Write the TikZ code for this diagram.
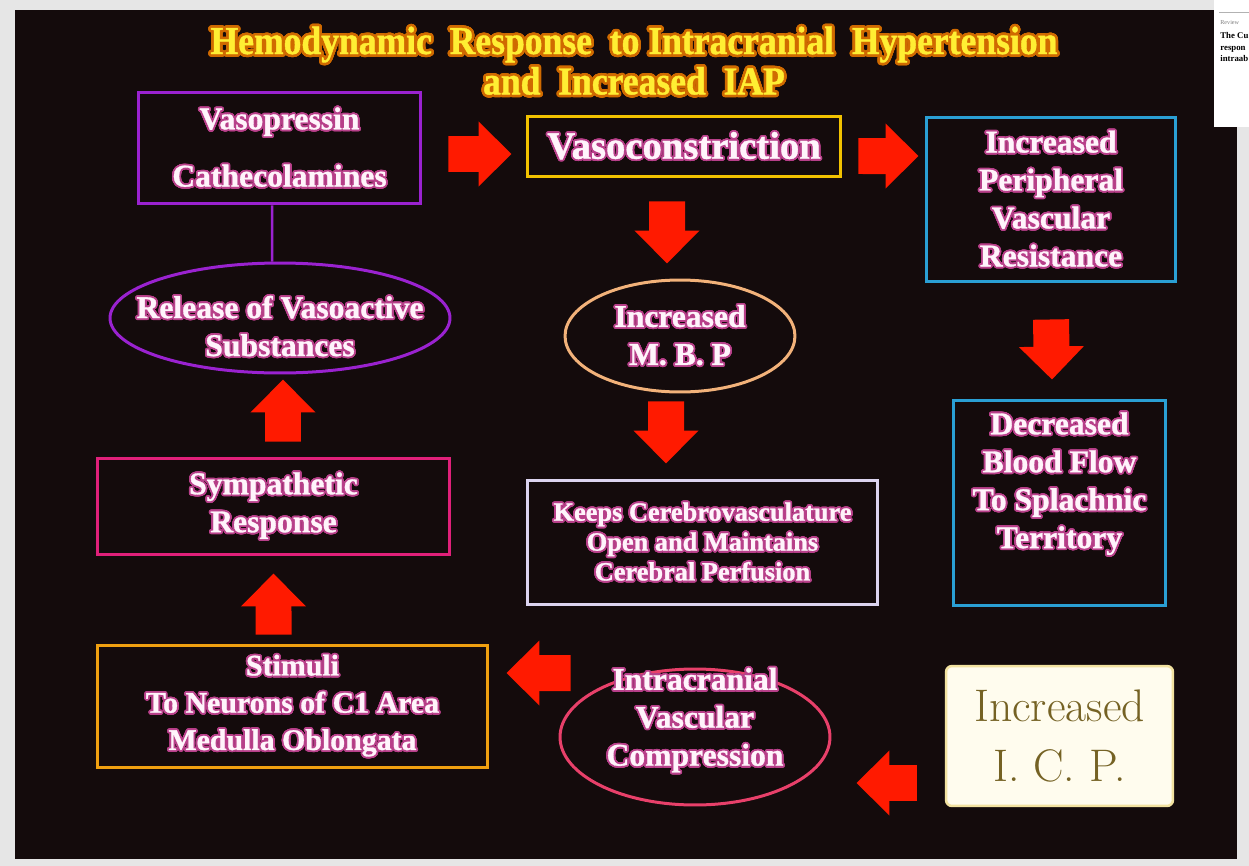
\documentclass[tikz,border=0pt]{standalone}
\usepackage{fontspec}
\usepackage{contour}
\usetikzlibrary{shapes.geometric,arrows.meta}

\newfontfamily\slidefont{Liberation Serif}[BoldFeatures={FakeBold=1}]
\newfontfamily\titlefont{Liberation Serif}[FakeStretch=0.9,BoldFeatures={FakeBold=1}]
\newfontfamily\thumbfont{Liberation Serif}

\definecolor{pagegray}{HTML}{E6E6E6}
\definecolor{slidebg}{HTML}{140B0C}
\definecolor{titleyel}{HTML}{FFEE33}
\definecolor{titleglow}{HTML}{D06A00}
\definecolor{txtwhite}{HTML}{FFF4FB}
\definecolor{txtglow}{HTML}{B8408A}
\definecolor{vpurple}{HTML}{9A22D0}
\definecolor{vgold}{HTML}{F2C200}
\definecolor{vcyan}{HTML}{2A9FD4}
\definecolor{vpeach}{HTML}{F2B27A}
\definecolor{vlilac}{HTML}{DCD4F0}
\definecolor{vmagenta}{HTML}{E0207A}
\definecolor{vorange}{HTML}{F0A010}
\definecolor{vrose}{HTML}{E8406A}
\definecolor{arrowred}{HTML}{FF1A00}
\definecolor{icpfill}{HTML}{FFFCEE}
\definecolor{icpedge}{HTML}{F2E2A0}
\definecolor{icptext}{HTML}{756224}

\contournumber{24}
\newcommand\gl[1]{{\contourlength{1pt}\contour{txtglow}{#1}}}
\newcommand\tgl[1]{{\contourlength{1.5pt}\contour{titleglow}{#1}}}

\tikzset{
  slidetext/.style={text=txtwhite, align=center,
    font=\slidefont\bfseries\fontsize{18}{21.6}\selectfont},
  framebox/.style={draw=#1, line width=0.06cm, rectangle, inner sep=0pt},
  ovalbox/.style={draw=#1, line width=0.06cm, ellipse, inner sep=0pt},
  bigarrow/.style={draw=arrowred, line width=0.72cm,
    -{Triangle[length=0.66cm,width=1.26cm]}},
}

\begin{document}
\begin{tikzpicture}[x=0.02cm, y=-0.02cm]
\useasboundingbox (0,0) rectangle (1249,866);
\fill[pagegray] (0,0) rectangle (1249,866);
\fill[slidebg] (15,10) rectangle (1237,859);

% paper thumbnail, top right
\fill[white] (1214,0) rectangle (1249,127);
\begin{scope}
\clip (1214,0) rectangle (1249,127);
\draw[gray!60, line width=0.02cm] (1219,12) -- (1249,12);
\node[anchor=west, inner sep=0pt, text=gray, font=\thumbfont\fontsize{3.5}{4}\selectfont] (thumbrev) at (1220,22) {Review};
\node[anchor=west, inner sep=0pt, align=left, font=\thumbfont\bfseries\fontsize{5}{6.5}\selectfont] (thumbtitle) at (1220,47) {The Cu\\respon\\intraab};
\end{scope}

% title
\node[text=titleyel, align=center, font=\titlefont\bfseries\fontsize{22.5}{23}\selectfont] (title) at (634,62)
  {\tgl{Hemodynamic\ \ Response\ \ to Intracranial\ \ Hypertension}\\ \tgl{and\ \ Increased\ \ IAP}};

% boxes
\node[framebox=vpurple, minimum width=5.66cm, minimum height=2.24cm, slidetext] (vaso) at (279.5,148)
  {\gl{Vasopressin}\\[11pt] \gl{Cathecolamines}};
\node[framebox=vgold, minimum width=6.28cm, minimum height=1.22cm, slidetext,
  font=\slidefont\bfseries\fontsize{22}{26}\selectfont] (vconstr) at (684,146.5) {\gl{Vasoconstriction}};
\node[framebox=vcyan, minimum width=5cm, minimum height=3.3cm, slidetext] (ipvr) at (1051,199.5)
  {\gl{Increased}\\ \gl{Peripheral}\\ \gl{Vascular}\\ \gl{Resistance}};

\node[ovalbox=vpurple, minimum width=6.8cm, minimum height=2.2cm] (release) at (280,318) {};
\node[slidetext] (releasetxt) at ([yshift=-0.18cm]release.center) {\gl{Release of Vasoactive}\\ \gl{Substances}};

\node[ovalbox=vpeach, minimum width=4.6cm, minimum height=2.24cm] (mbp) at (680,336) {};
\node[slidetext] (mbptxt) at (mbp.center) {\gl{Increased}\\ \gl{M. B. P}};

\node[framebox=vlilac, minimum width=7.02cm, minimum height=2.5cm, slidetext,
  font=\slidefont\bfseries\fontsize{15}{17}\selectfont] (keeps) at (702.5,542.5)
  {\gl{Keeps Cerebrovasculature}\\ \gl{Open and Maintains}\\ \gl{Cerebral Perfusion}};

\node[framebox=vcyan, minimum width=4.26cm, minimum height=4.12cm] (dbf) at (1059.5,503) {};
\node[slidetext] (dbftxt) at ([yshift=0.37cm]dbf.center)
  {\gl{Decreased}\\ \gl{Blood Flow}\\ \gl{To Splachnic}\\ \gl{Territory}};

\node[framebox=vmagenta, minimum width=7.06cm, minimum height=1.94cm, slidetext] (symp) at (273.5,506.5)
  {\gl{Sympathetic}\\ \gl{Response}};

\node[framebox=vorange, minimum width=7.82cm, minimum height=2.46cm, slidetext,
  font=\slidefont\bfseries\fontsize{17}{21.2}\selectfont] (stim) at (292.5,706.5)
  {\gl{Stimuli}\\ \gl{To Neurons of C1 Area}\\ \gl{Medulla Oblongata}};

\node[ovalbox=vrose, minimum width=5.4cm, minimum height=2.72cm] (icomp) at (695,737) {};
\node[slidetext] (icomptxt) at ([yshift=0.32cm]icomp.center)
  {\gl{Intracranial}\\ \gl{Vascular}\\ \gl{Compression}};

\node[draw=icpedge, fill=icpfill, line width=0.05cm, rounded corners=0.12cm,
  minimum width=4.54cm, minimum height=2.8cm, text=icptext, align=center,
  font=\fontsize{26}{34.7}\selectfont] (icp) at (1059.5,736) {Increased\\ I. C. P.};

% connector and red arrows
\draw[vpurple, line width=0.05cm] ([xshift=-0.15cm]vaso.south) -- ([xshift=-0.16cm]release.north);

\draw[bigarrow] ([xshift=0.52cm,yshift=-0.12cm]vaso.east) -- ([xshift=-0.28cm,yshift=-0.15cm]vconstr.west);
\draw[bigarrow] ([xshift=0.32cm,yshift=-0.19cm]vconstr.east) -- ([xshift=-0.12cm,yshift=0.87cm]ipvr.west);
\draw[bigarrow] ([xshift=-0.34cm,yshift=-0.46cm]vconstr.south) -- ([xshift=-0.26cm,yshift=0.3cm]mbp.north);
\draw[bigarrow] ([xshift=-0.28cm,yshift=-0.16cm]mbp.south) -- ([xshift=-0.73cm,yshift=0.3cm]keeps.north);
\draw[bigarrow] ([yshift=-0.72cm]ipvr.south) -- ([xshift=-0.15cm,yshift=0.38cm]dbf.north);
\draw[bigarrow] ([xshift=0.19cm,yshift=0.3cm]symp.north) -- ([xshift=0.06cm,yshift=-0.1cm]release.south);
\draw[bigarrow] ([xshift=-0.38cm,yshift=0.18cm]stim.north) -- ([yshift=-0.34cm]symp.south);
\draw[bigarrow] ([xshift=0.24cm,yshift=1.28cm]icomp.west) -- ([xshift=0.34cm,yshift=0.67cm]stim.east);
\draw[bigarrow] ([xshift=-0.56cm,yshift=-0.94cm]icp.west) -- ([xshift=0.5cm,yshift=-0.92cm]icomp.east);

\end{tikzpicture}
\end{document}
